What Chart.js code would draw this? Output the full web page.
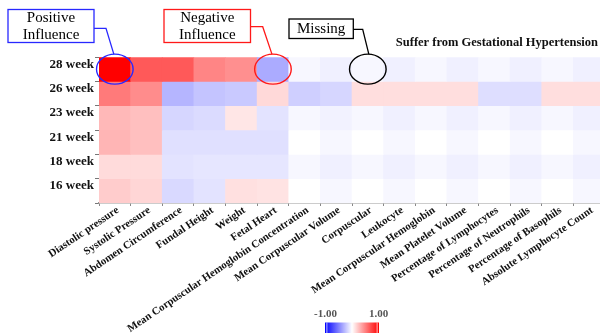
<!DOCTYPE html>
<html>
<head>
<meta charset="utf-8">
<script src="https://cdn.jsdelivr.net/npm/chart.js@4"></script>
<style>
  html, body { margin: 0; padding: 0; background: #fff; overflow: hidden; }
  #wrap { width: 600px; height: 333px; overflow: hidden; position: relative; }
  canvas { display: block; }
</style>
</head>
<body>
<div id="wrap"><canvas id="c" width="605" height="333"></canvas></div>
<script>
// ---- data ----
const weeks = ['28 week', '26 week', '23 week', '21 week', '18 week', '16 week'];
const features = [
  'Diastolic pressure', 'Systolic Pressure', 'Abdomen Circumference', 'Fundal Height',
  'Weight', 'Fetal Heart', 'Mean Corpuscular Hemoglobin Concentration', 'Mean Corpuscular Volume',
  'Corpuscular', 'Leukocyte', 'Mean Corpuscular Hemoglobin', 'Mean Platelet Volume',
  'Percentage of Lymphocytes', 'Percentage of Neutrophils', 'Percentage of Basophils',
  'Absolute Lymphocyte Count'
];
const week28 = [1.00, 0.65, 0.65, 0.48, 0.44, -0.33, -0.03, -0.06, -0.03, -0.06, -0.03, -0.06, -0.03, -0.06, -0.03, -0.06];
const week26 = [0.52, 0.45, -0.29, -0.23, -0.21, 0.15, -0.19, -0.16, 0.13, 0.13, 0.13, 0.13, -0.13, -0.13, 0.13, 0.13];
const week23 = [0.28, 0.25, -0.16, -0.14, 0.10, -0.11, -0.03, -0.05, -0.03, -0.06, -0.03, -0.06, -0.03, -0.06, -0.03, -0.06];
const week21 = [0.29, 0.25, -0.12, -0.12, -0.12, -0.12, 0.00, -0.03, 0.00, -0.03, 0.00, -0.03, 0.00, -0.03, 0.00, -0.03];
const week18 = [0.14, 0.14, -0.11, -0.10, -0.10, -0.10, -0.03, -0.06, -0.03, -0.06, -0.03, -0.06, -0.03, -0.06, -0.03, -0.06];
const week16 = [0.20, 0.16, -0.15, -0.11, 0.12, 0.11, 0.00, -0.03, 0.00, -0.03, 0.00, -0.03, 0.00, -0.03, 0.00, -0.03];
const matrix = [week28, week26, week23, week21, week18, week16];
const colorMin = -1.00, colorMax = 1.00;
// annotated cells: [row, col]
const positiveCell = [0, 0];
const negativeCell = [0, 5];
const missingCell = [0, 8];

// bwr colormap
function bwr(v) {
  v = Math.max(-1, Math.min(1, v));
  if (v >= 0) {
    const g = Math.round(255 * (1 - v));
    return `rgb(255,${g},${g})`;
  }
  const g = Math.round(255 * (1 + v));
  return `rgb(${g},${g},255)`;
}

const datasets = matrix.map((rowVals, r) => ({
  label: weeks[r],
  data: rowVals.map(() => [r, r + 1]),
  backgroundColor: rowVals.map(bwr),
  borderWidth: 0,
  borderSkipped: false,
  grouped: false,
  barPercentage: 1,
  categoryPercentage: 1
}));

const SERIF = '"Liberation Serif", "DejaVu Serif", serif';

const annotations = {
  id: 'annotations',
  afterDraw(chart) {
    const ctx = chart.ctx;
    const xs = chart.scales.x, ys = chart.scales.y;
    const cellCenter = ([r, c]) => [xs.getPixelForValue(c), ys.getPixelForValue(r + 0.5)];
    ctx.save();

    // title
    ctx.fillStyle = '#111';
    ctx.font = 'bold 12.5px ' + SERIF;
    ctx.textAlign = 'right';
    ctx.textBaseline = 'middle';
    ctx.fillText('Suffer from Gestational Hypertension', 598, 43);

    function ellipse(cell, color) {
      const [cx, cy] = cellCenter(cell);
      ctx.beginPath();
      ctx.ellipse(cx, cy, 18.3, 15, 0, 0, Math.PI * 2);
      ctx.strokeStyle = color;
      ctx.lineWidth = 1.4;
      ctx.stroke();
      return [cx, cy];
    }
    function box(x0, y0, x1, y1, lines, color, lineYs) {
      ctx.fillStyle = '#fff';
      ctx.fillRect(x0, y0, x1 - x0, y1 - y0);
      ctx.strokeStyle = color;
      ctx.lineWidth = 1.3;
      ctx.strokeRect(x0, y0, x1 - x0, y1 - y0);
      ctx.fillStyle = '#000';
      ctx.font = '15px ' + SERIF;
      ctx.textAlign = 'center';
      ctx.textBaseline = 'middle';
      lines.forEach((t, i) => ctx.fillText(t, (x0 + x1) / 2, lineYs[i]));
    }
    function connector(x0, y, x1, cx, cy, color) {
      ctx.beginPath();
      ctx.moveTo(x0, y);
      ctx.lineTo(x1, y);
      ctx.lineTo(cx, cy);
      ctx.strokeStyle = color;
      ctx.lineWidth = 1.3;
      ctx.stroke();
    }

    const blue = 'rgb(40,40,255)', red = 'rgb(255,25,25)', black = '#000';
    let [bx, by] = ellipse(positiveCell, blue);
    connector(94, 28.3, 106, bx - 1, by - 15, blue);
    box(8, 9.5, 94, 42.5, ['Positive', 'Influence'], blue, [18.5, 35.5]);

    let [rx, ry] = ellipse(negativeCell, red);
    connector(250.5, 26.7, 262.7, rx - 1, ry - 15, red);
    box(164, 9.5, 250.5, 42.5, ['Negative', 'Influence'], red, [18.5, 35.5]);

    let [mx, my] = ellipse(missingCell, black);
    connector(353.3, 29.3, 362.7, mx + 1, my - 15, black);
    box(289, 19, 353.3, 38.5, ['Missing'], black, [29]);

    // colorbar
    const cbL = 325, cbR = 379, cbT = 322.5, cbB = 333;
    const g = ctx.createLinearGradient(cbL, 0, cbR, 0);
    g.addColorStop(0, bwr(colorMin));
    g.addColorStop(0.5, bwr(0));
    g.addColorStop(1, bwr(colorMax));
    ctx.fillStyle = g;
    ctx.fillRect(cbL, cbT, cbR - cbL, cbB - cbT);
    ctx.fillStyle = 'rgba(255,255,255,0.9)';
    ctx.fillRect(cbL + 1.5, cbT, 0.8, cbB - cbT);
    ctx.fillRect(cbR - 2.3, cbT, 0.8, cbB - cbT);
    ctx.fillStyle = '#555';
    ctx.font = 'bold 11px ' + SERIF;
    ctx.textAlign = 'center';
    ctx.textBaseline = 'middle';
    ctx.fillText(colorMin.toFixed(2), 325.5, 314);
    ctx.fillText(colorMax.toFixed(2), 378.5, 314);

    ctx.restore();
  }
};

new Chart(document.getElementById('c'), {
  type: 'bar',
  data: { labels: features, datasets },
  options: {
    responsive: false,
    animation: false,
    layout: { padding: { top: 57, right: 0, left: 0, bottom: 0 } },
    plugins: { legend: { display: false }, tooltip: { enabled: false }, title: { display: false } },
    scales: {
      x: {
        type: 'category',
        offset: true,
        grid: { display: true, drawOnChartArea: false, offset: true, tickLength: 3, tickColor: '#888' },
        border: { display: true, color: '#999', width: 1.5 },
        ticks: {
          autoSkip: false, minRotation: 34, maxRotation: 34, padding: -2, labelOffset: 3,
          color: '#111', font: { family: SERIF, size: 10.8, weight: 'bold' }
        },
        afterFit(scale) { scale.height = 130; }
      },
      y: {
        type: 'linear',
        min: 0, max: 6, reverse: true,
        afterBuildTicks(scale) {
          const t = [];
          for (let i = 0; i <= weeks.length * 2; i++) t.push({ value: i / 2 });
          scale.ticks = t;
        },
        grid: {
          display: true, drawOnChartArea: false, tickLength: 4,
          tickColor: (c) => (c.tick && Number.isInteger(c.tick.value) ? '#777' : 'rgba(0,0,0,0)')
        },
        border: { display: false },
        ticks: {
          autoSkip: false, padding: 1, labelOffset: -5,
          color: '#111', font: { family: SERIF, size: 13, weight: 'bold' },
          callback: (v) => (Number.isInteger(v) ? '' : weeks[Math.floor(v)])
        },
        afterFit(scale) { scale.width = 99; }
      }
    }
  },
  plugins: [annotations]
});
</script>
</body>
</html>
